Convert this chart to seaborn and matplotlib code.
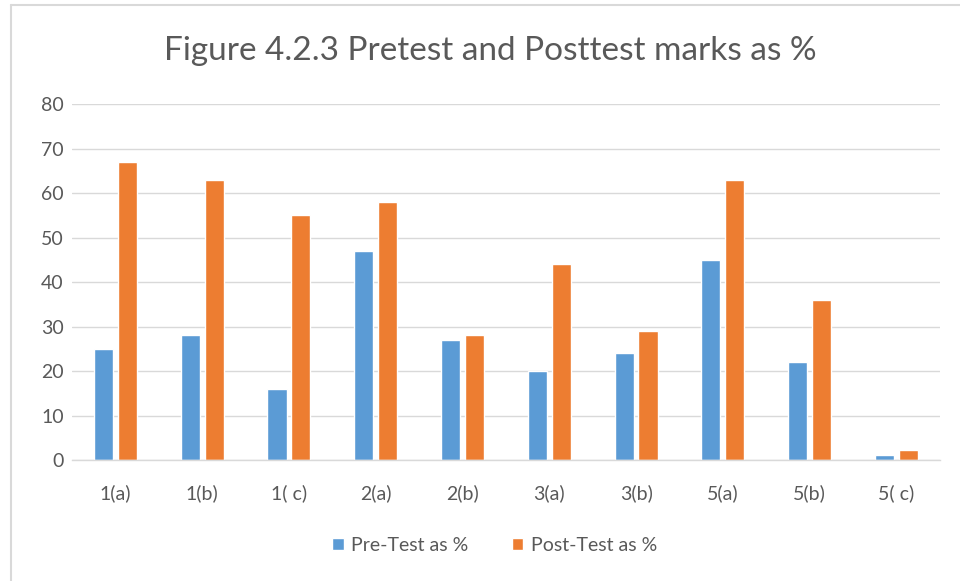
import numpy as np
import pandas as pd
import seaborn as sns
import matplotlib.pyplot as plt
from matplotlib.lines import Line2D

# data
questions = ['1(a)', '1(b)', '1( c)', '2(a)', '2(b)', '3(a)', '3(b)', '5(a)', '5(b)', '5( c)']
pre_test = [25, 28, 16, 47, 27, 20, 24, 45, 22, 1.2]
post_test = [67, 63, 55, 58, 28, 44, 29, 63, 36, 2.2]
series = ['Pre-Test as %', 'Post-Test as %']
colors = ['#5B9BD5', '#ED7D31']

df = pd.DataFrame({
    'question': questions * 2,
    'series': [series[0]] * len(questions) + [series[1]] * len(questions),
    'value': pre_test + post_test,
})

sns.set_theme(style='white')
plt.rcParams['font.family'] = ['Lato', 'DejaVu Sans']
text_col = '#595959'

fig = plt.figure(figsize=(9.6, 5.81), dpi=100)
ax = fig.add_axes([0.075, 0.208, 0.904, 0.613])

sns.barplot(data=df, x='question', y='value', hue='series', order=questions,
            hue_order=series, palette=colors, width=0.55, gap=0.2,
            saturation=1, ax=ax, legend=True)

ax.set_ylim(0, 80)
ax.set_yticks(np.arange(0, 81, 10))
ax.yaxis.grid(True, color='#D9D9D9', linewidth=1)
ax.set_axisbelow(True)
for side in ['left', 'right', 'top']:
    ax.spines[side].set_visible(False)
ax.spines['bottom'].set_color('#D9D9D9')
ax.spines['bottom'].set_linewidth(1)
ax.tick_params(axis='both', length=0, labelsize=14, colors=text_col)
ax.tick_params(axis='x', pad=17)
ax.tick_params(axis='y', pad=6)
ax.set_xlabel('')
ax.set_ylabel('')

leg = ax.legend(loc='center', bbox_to_anchor=(0.487, -0.24), ncol=2,
                frameon=False, fontsize=14, handlelength=0.6, handleheight=0.6,
                columnspacing=2.2, handletextpad=0.4)
for t in leg.get_texts():
    t.set_color(text_col)

fig.text(0.511, 0.913, 'Figure 4.2.3 Pretest and Posttest marks as %',
         ha='center', va='center', fontsize=24, color=text_col)

# light frame on the left and top edges
fig.add_artist(Line2D([0.011, 0.011], [0, 0.991], transform=fig.transFigure,
                      color='#D9D9D9', linewidth=1.5))
fig.add_artist(Line2D([0.011, 1], [0.991, 0.991], transform=fig.transFigure,
                      color='#D9D9D9', linewidth=1.5))

fig.savefig('out.png', dpi=100)
